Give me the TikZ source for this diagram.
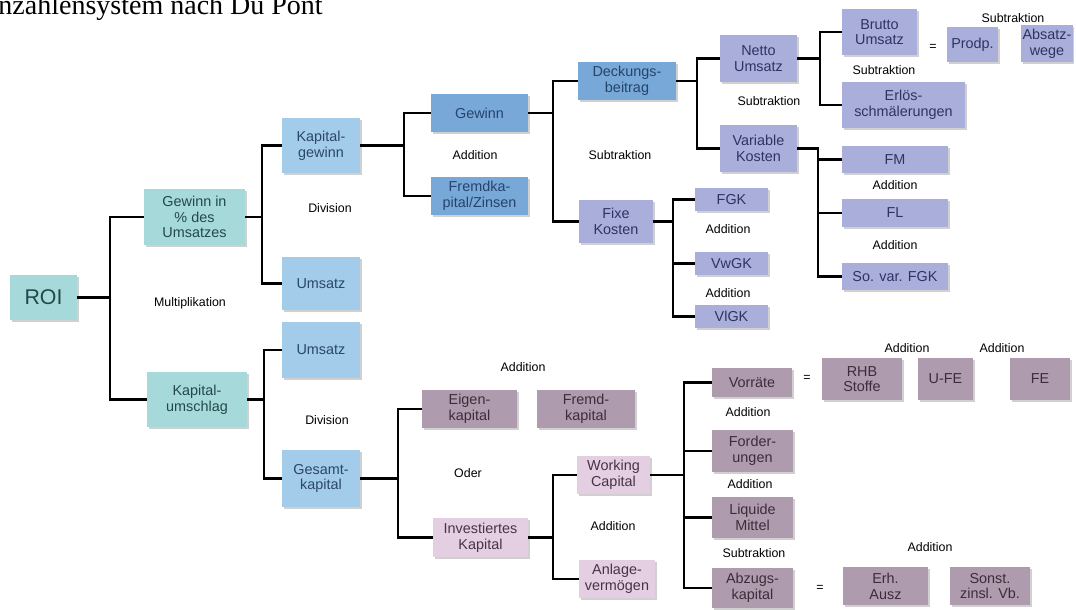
\documentclass[tikz,border=0pt]{standalone}
\usepackage{fontspec}
\setmainfont{Liberation Sans}
\newfontfamily\titlefont{Liberation Serif}
\usetikzlibrary{shadows}
\definecolor{cA}{HTML}{A6DADA}\definecolor{tA}{HTML}{244848}
\definecolor{cB}{HTML}{A3CBEA}\definecolor{tB}{HTML}{2A4868}
\definecolor{cC}{HTML}{78A8D8}\definecolor{tC}{HTML}{25446C}
\definecolor{cD}{HTML}{A9AEDA}\definecolor{tD}{HTML}{2E3462}
\definecolor{cE}{HTML}{AE9CAE}\definecolor{tE}{HTML}{3E2A3A}
\definecolor{cF}{HTML}{E4CEE2}\definecolor{tF}{HTML}{463446}
\begin{document}
\begin{tikzpicture}[x=0.75pt,y=-0.75pt,
  sz/.style 2 args={minimum width=#1*0.75pt, minimum height=#2*0.75pt},
  bx/.style={inner sep=1pt, align=center, font=\fontsize{10.8}{11.8}\selectfont,
    drop shadow={shadow xshift=1.2pt, shadow yshift=-1.2pt, fill=black!30, opacity=0.6}},
  lA/.style={bx, fill=cA, text=tA},
  lB/.style={bx, fill=cB, text=tB},
  lC/.style={bx, fill=cC, text=tC},
  lD/.style={bx, fill=cD, text=tD},
  lE/.style={bx, fill=cE, text=tE},
  lF/.style={bx, fill=cF, text=tF},
  lbl/.style={font=\fontsize{9.3}{10}\selectfont, text=black, inner sep=0pt},
  conn/.style={draw=black, line width=1.7pt}]
\useasboundingbox (0,0) rectangle (1076,610);
\clip (0,0) rectangle (1076,610);
\fill[white] (0,0) rectangle (1076,610);
% title (cut off in the reference)
\node[anchor=base east, inner sep=0pt, font=\titlefont\fontsize{21}{22}\selectfont] (title) at (323,15) {nzahlensystem nach Du Pont};

% level 1
\node[lA, sz={67}{45}, font=\fontsize{16}{17}\selectfont] (roi) at (43.5,297.5) {ROI};
\node[lA, sz={101}{56}] (gpu) at (194.5,217) {Gewinn in\\\% des\\Umsatzes};
\node[lA, sz={100}{55}] (kum) at (197,399.5) {Kapital-\\umschlag};
% level 2
\node[lB, sz={78}{55}] (kg) at (321,145.5) {Kapital-\\gewinn};
\node[lB, sz={78}{53}] (ums1) at (321,283.5) {Umsatz};
\node[lB, sz={78}{56}] (ums2) at (321,350) {Umsatz};
\node[lB, sz={78}{57}] (gk) at (321,478.5) {Gesamt-\\kapital};
% level 3
\node[lC, sz={97}{38}] (gew) at (479.5,113) {Gewinn};
\node[lC, sz={97}{38}] (fkz) at (479.5,196) {Fremdka-\\pital/Zinsen};
\node[lC, sz={98}{38}] (db) at (627,81) {Deckungs-\\beitrag};
% cost side
\node[lD, sz={74}{43}] (fix) at (616,221.5) {Fixe\\Kosten};
\node[lD, sz={77}{47}] (nu) at (758.5,58.5) {Netto\\Umsatz};
\node[lD, sz={77}{47}] (vk) at (758.5,148.5) {Variable\\Kosten};
\node[lD, sz={75}{46}] (bu) at (879.5,32) {Brutto\\Umsatz};
\node[lD, sz={51}{35}] (prodp) at (972.5,44.5) {Prodp.};
\node[lD, sz={50}{37}] (absw) at (1047,43.5) {Absatz-\\wege};
\node[lD, sz={123}{46}] (erl) at (903.5,105) {Erlös-\\schmälerungen};
\node[lD, sz={106}{27}] (fm) at (895,159.5) {FM};
\node[lD, sz={106}{28}] (fl) at (895,213) {FL};
\node[lD, sz={106}{27}] (sofgk) at (895,276.5) {So. var. FGK};
\node[lD, sz={73}{23}] (fgk) at (731.5,199.5) {FGK};
\node[lD, sz={73}{23}] (vwgk) at (731.5,263.5) {VwGK};
\node[lD, sz={73}{23}] (vlgk) at (731.5,316.5) {VlGK};
% capital side
\node[lE, sz={95}{38}] (ek) at (469.5,409) {Eigen-\\kapital};
\node[lE, sz={98}{38}] (fk) at (586,409) {Fremd-\\kapital};
\node[lF, sz={95}{39}] (ik) at (480.5,537.5) {Investiertes\\Kapital};
\node[lF, sz={73}{38}] (wc) at (613.5,475) {Working\\Capital};
\node[lF, sz={76}{38}] (av) at (617,579) {Anlage-\\vermögen};
\node[lE, sz={80}{29}] (vor) at (752,382.5) {Vorräte};
\node[lE, sz={80}{42}] (rhb) at (862,379) {RHB\\Stoffe};
\node[lE, sz={55}{42}] (ufe) at (945.5,379) {U-FE};
\node[lE, sz={60}{42}] (fe) at (1040,379) {FE};
\node[lE, sz={81}{42}] (ford) at (752.5,451) {Forder-\\ungen};
\node[lE, sz={81}{41}] (liq) at (752.5,517.5) {Liquide\\Mittel};
\node[lE, sz={81}{40}] (abz) at (752.5,588) {Abzugs-\\kapital};
\node[lE, sz={85}{38}] (erh) at (885.5,586) {Erh.\\Ausz};
\node[lE, sz={80}{38}] (sonst) at (990,586) {Sonst.\\zinsl. Vb.};

% vertical bracket positions
\coordinate (v1) at (110,0);
\coordinate (v2) at (262,0);
\coordinate (v3) at (264,0);
\coordinate (v4) at (404,0);
\coordinate (v5) at (553,0);
\coordinate (v6) at (697,0);
\coordinate (v7) at (820,0);
\coordinate (v8) at (818,0);
\coordinate (v9) at (673,0);
\coordinate (v10) at (398,0);
\coordinate (v11) at (553,0);
\coordinate (v12) at (684,0);

% connectors
\draw[conn] (roi.east) -- (roi.east -| v1);
\draw[conn] (gpu.west) -- (gpu.west -| v1) |- (kum.west);
\draw[conn] (gpu.east) -- (gpu.east -| v2);
\draw[conn] (kg.west) -- (kg.west -| v2) |- (ums1.west);
\draw[conn] (kum.east) -- (kum.east -| v3);
\draw[conn] (ums2.west) -- (ums2.west -| v3) |- (gk.west);
\draw[conn] (kg.east) -- (kg.east -| v4);
\draw[conn] (gew.west) -- (gew.west -| v4) |- (fkz.west);
\draw[conn] (gew.east) -- (gew.east -| v5);
\draw[conn] (db.west) -- (db.west -| v5) |- (fix.west);
\draw[conn] (db.east) -- (db.east -| v6);
\draw[conn] (nu.west) -- (nu.west -| v6) |- (vk.west);
\draw[conn] (nu.east) -- (nu.east -| v7);
\draw[conn] (bu.west) -- (bu.west -| v7) |- (erl.west);
\draw[conn] (vk.east) -- (vk.east -| v8) |- (sofgk.west);
\draw[conn] (fm.west) -- (fm.west -| v8);
\draw[conn] (fl.west) -- (fl.west -| v8);
\draw[conn] (fix.east) -- (fix.east -| v9);
\draw[conn] (fgk.west) -- (fgk.west -| v9) |- (vlgk.west);
\draw[conn] (vwgk.west) -- (vwgk.west -| v9);
\draw[conn] (gk.east) -- (gk.east -| v10);
\draw[conn] (ek.west) -- (ek.west -| v10) |- (ik.west);
\draw[conn] (ik.east) -- (ik.east -| v11);
\draw[conn] (wc.west) -- (wc.west -| v11) |- (av.west);
\draw[conn] (wc.east) -- (wc.east -| v12);
\draw[conn] (vor.west) -- (vor.west -| v12) |- (abz.west);
\draw[conn] (ford.west) -- (ford.west -| v12);
\draw[conn] (liq.west) -- (liq.west -| v12);

% operation labels
\node[lbl] (t1) at (190,303) {Multiplikation};
\node[lbl] (t2) at (330,208) {Division};
\node[lbl] (t3) at (327,420) {Division};
\node[lbl] (t4) at (475,155) {Addition};
\node[lbl] (t5) at (620,155) {Subtraktion};
\node[lbl] (t6) at (769,101) {Subtraktion};
\node[lbl] (t7) at (884,70) {Subtraktion};
\node[lbl] (t8) at (1013,18) {Subtraktion};
\node[lbl] (t9) at (933,47) {=};
\node[lbl] (t10) at (895,185) {Addition};
\node[lbl] (t11) at (895,245) {Addition};
\node[lbl] (t12) at (728,229) {Addition};
\node[lbl] (t13) at (728,293) {Addition};
\node[lbl] (t14) at (523,367) {Addition};
\node[lbl] (t15) at (468,473) {Oder};
\node[lbl] (t16) at (613,526) {Addition};
\node[lbl] (t17) at (807,378) {=};
\node[lbl] (t18) at (907,348) {Addition};
\node[lbl] (t19) at (1002,348) {Addition};
\node[lbl] (t20) at (748,412) {Addition};
\node[lbl] (t21) at (750,484) {Addition};
\node[lbl] (t22) at (754,553) {Subtraktion};
\node[lbl] (t23) at (930,547) {Addition};
\node[lbl] (t24) at (820,588) {=};
\end{tikzpicture}
\end{document}
